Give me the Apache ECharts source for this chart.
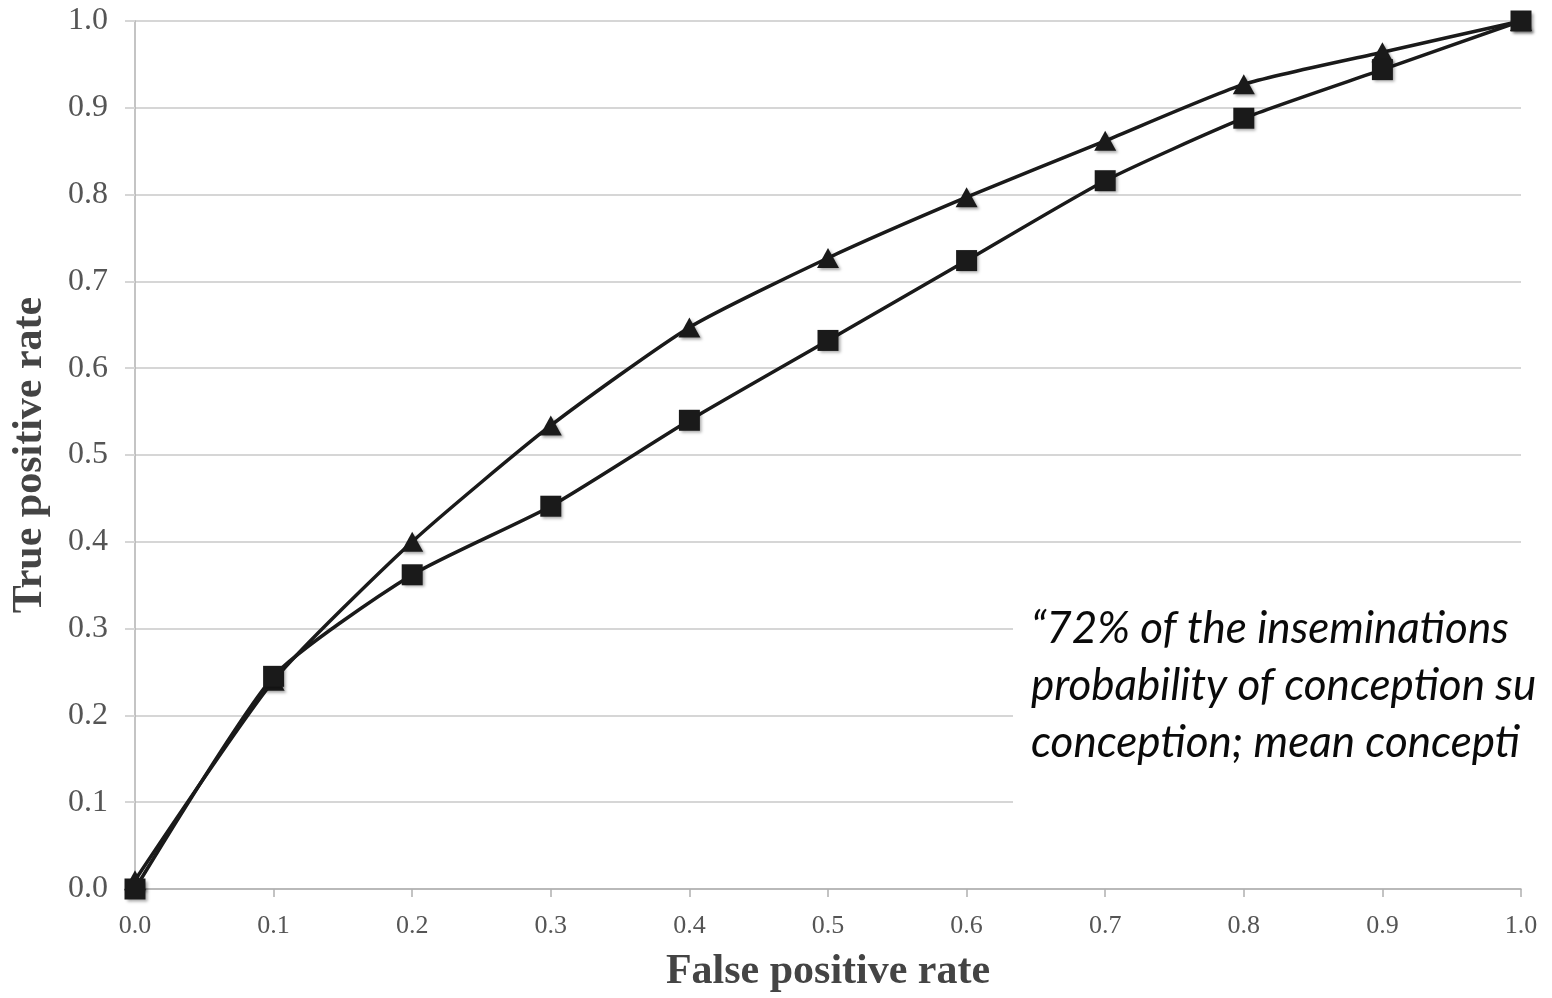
<!DOCTYPE html>
<html>
<head>
<meta charset="utf-8">
<script src="https://cdn.jsdelivr.net/npm/echarts@6/dist/echarts.min.js"></script>
<style>
  html, body { margin: 0; padding: 0; background: #fff; }
  #chart { width: 1552px; height: 998px; }
</style>
</head>
<body>
<div id="chart"></div>
<script>
const fpr = [0, 0.1, 0.2, 0.3, 0.4, 0.5, 0.6, 0.7, 0.8, 0.9, 1.0];
const tprTriangle = [0.01, 0.24, 0.40, 0.534, 0.647, 0.727, 0.797, 0.862, 0.927, 0.964, 1.0];
const tprSquare = [0.0, 0.245, 0.362, 0.441, 0.540, 0.632, 0.724, 0.816, 0.888, 0.944, 1.0];
const noteLines = [
  "\u201c72% of the inseminations",
  "probability of conception su",
  "conception; mean concepti"
];

const chart = echarts.init(document.getElementById("chart"));

const pairs = (ys) => fpr.map((x, i) => [x, ys[i]]);
const serif = "'Liberation Serif', 'DejaVu Serif', serif";

const markerStyle = {
  color: "#1a1a1a",
  shadowBlur: 3,
  shadowColor: "rgba(0,0,0,0.35)",
  shadowOffsetX: 2,
  shadowOffsetY: 2,
};

const option = {
  backgroundColor: "#fff",
  animation: false,
  grid: { left: 135, right: 31, top: 21, bottom: 108 },
  xAxis: {
    type: "value",
    min: 0,
    max: 1,
    interval: 0.1,
    name: "False positive rate",
    nameLocation: "middle",
    nameGap: 62,
    nameTextStyle: { fontFamily: serif, fontWeight: "bold", fontSize: 42, color: "#444" },
    axisLine: { lineStyle: { color: "#b0b0b0", width: 1.5 } },
    axisTick: { show: true, length: 8, lineStyle: { color: "#b0b0b0", width: 1.5 } },
    axisLabel: {
      color: "#555",
      fontFamily: serif,
      fontSize: 26,
      margin: 24,
      formatter: (v) => v.toFixed(1),
    },
    splitLine: { show: false },
  },
  yAxis: {
    type: "value",
    min: 0,
    max: 1,
    interval: 0.1,
    name: "True positive rate",
    nameLocation: "middle",
    nameGap: 84,
    nameTextStyle: { fontFamily: serif, fontWeight: "bold", fontSize: 42, color: "#444" },
    axisLine: { show: true, lineStyle: { color: "#b0b0b0", width: 1.5 } },
    axisTick: { show: true, length: 10, lineStyle: { color: "#d6d6d6", width: 2 } },
    axisLabel: {
      color: "#555",
      fontFamily: serif,
      fontSize: 32,
      margin: 27,
      formatter: (v) => v.toFixed(1),
    },
    splitLine: { show: true, lineStyle: { color: "#d6d6d6", width: 2 } },
  },
  graphic: [
    {
      type: "rect",
      z: 50,
      shape: { x: 1013, y: 592, width: 539, height: 236 },
      style: { fill: "#fff" },
    },
    ...noteLines.map((t, i) => ({
      type: "text",
      z: 51,
      x: 1031,
      y: 629 + i * 57,
      style: {
        text: t,
        fill: "#0a0a0a",
        font: "italic 44px Lato, 'Open Sans', sans-serif",
        verticalAlign: "middle",
        align: "left",
      },
    })),
  ],
  series: [
    {
      name: "Triangle",
      type: "line",
      data: pairs(tprTriangle),
      smooth: 0.2,
      symbol: "triangle",
      symbolSize: [22, 20],
      lineStyle: { color: "#1a1a1a", width: 3.5 },
      itemStyle: markerStyle,
      z: 3,
    },
    {
      name: "Square",
      type: "line",
      data: pairs(tprSquare),
      smooth: 0.2,
      symbol: "rect",
      symbolSize: 21,
      lineStyle: { color: "#1a1a1a", width: 3.5 },
      itemStyle: markerStyle,
      z: 4,
    },
  ],
};

chart.setOption(option);
</script>
</body>
</html>
